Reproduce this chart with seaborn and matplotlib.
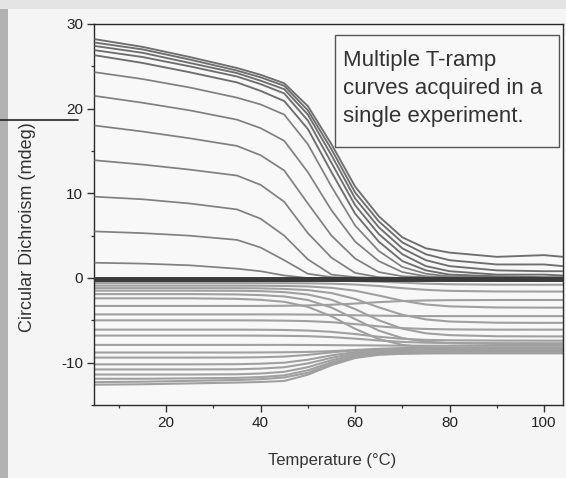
import matplotlib
matplotlib.use("Agg")
import matplotlib.pyplot as plt
import seaborn as sns
import pandas as pd
from matplotlib.patches import Rectangle
from matplotlib.lines import Line2D
from matplotlib.ticker import AutoMinorLocator

# ---------------- data ----------------
temps = [5, 15, 25, 35, 40, 45, 50, 55, 60, 65, 70, 75, 80, 90, 100, 104]

pos_01 = [28.2, 27.3, 26.1, 24.8, 24.0, 23.0, 20.3, 15.8, 10.8, 7.3, 4.8, 3.5, 3.0, 2.5, 2.7, 2.5]
pos_02 = [27.8, 27.0, 25.8, 24.5, 23.7, 22.7, 19.8, 15.2, 10.1, 6.7, 4.2, 2.8, 2.1, 1.6, 1.6, 1.4]
pos_03 = [27.4, 26.6, 25.4, 24.2, 23.3, 22.3, 19.3, 14.5, 9.4, 6.0, 3.5, 2.1, 1.4, 0.9, 0.8, 0.8]
pos_04 = [26.9, 26.1, 25.0, 23.8, 22.9, 21.8, 18.6, 13.6, 8.6, 5.2, 2.8, 1.4, 0.8, 0.4, 0.4, 0.3]
pos_05 = [26.3, 25.4, 24.3, 23.1, 22.1, 20.9, 17.6, 12.5, 7.6, 4.3, 2.0, 0.9, 0.4, 0.2, 0.1, 0.1]
pos_06 = [24.3, 23.5, 22.5, 21.3, 20.5, 19.3, 15.8, 10.8, 6.2, 3.2, 1.3, 0.5, 0.2, 0.1, 0.0, 0.0]
pos_07 = [21.5, 20.7, 19.8, 18.7, 17.7, 16.2, 12.5, 8.0, 4.3, 2.0, 0.7, 0.2, 0.1, 0.0, 0.0, 0.0]
pos_08 = [18.0, 17.3, 16.5, 15.6, 14.5, 12.7, 8.8, 5.0, 2.3, 0.7, 0.2, 0.1, 0.0, 0.0, 0.0, 0.0]
pos_09 = [13.9, 13.4, 12.8, 12.1, 11.0, 9.0, 5.3, 2.4, 0.6, 0.1, 0.0, 0.0, 0.0, 0.0, 0.0, 0.0]
pos_10 = [9.6, 9.3, 8.8, 8.1, 7.0, 5.0, 2.2, 0.4, 0.1, 0.0, 0.0, 0.0, 0.0, 0.0, 0.0, 0.0]
pos_11 = [5.5, 5.3, 5.0, 4.5, 3.6, 2.1, 0.5, 0.1, 0.0, 0.0, 0.0, 0.0, 0.0, 0.0, 0.0, 0.0]
pos_12 = [1.8, 1.7, 1.5, 1.1, 0.8, 0.3, 0.0, 0.0, 0.0, 0.0, 0.0, 0.0, 0.0, 0.0, 0.0, 0.0]

neg_u1 = [-0.3, -0.3, -0.3, -0.3, -0.3, -0.3, -0.31, -0.32, -0.36, -0.43, -0.55, -0.67, -0.74, -0.79, -0.8, -0.8]
neg_u2 = [-0.6, -0.6, -0.6, -0.6, -0.6, -0.61, -0.63, -0.67, -0.77, -0.95, -1.2, -1.4, -1.52, -1.59, -1.6, -1.6]
neg_u3 = [-0.9, -0.9, -0.9, -0.9, -0.91, -0.94, -1.0, -1.16, -1.5, -2.07, -2.69, -3.13, -3.35, -3.48, -3.5, -3.5]
neg_u4 = [-1.2, -1.2, -1.2, -1.2, -1.22, -1.29, -1.43, -1.78, -2.47, -3.46, -4.35, -4.89, -5.14, -5.28, -5.3, -5.3]
neg_u5 = [-1.5, -1.5, -1.5, -1.51, -1.55, -1.67, -1.95, -2.57, -3.67, -4.99, -5.99, -6.53, -6.75, -6.88, -6.9, -6.9]
neg_u6 = [-1.9, -1.9, -1.9, -1.94, -2.02, -2.18, -2.6, -3.49, -4.85, -6.21, -7.1, -7.52, -7.69, -7.79, -7.8, -7.8]
neg_u7 = [-2.4, -2.4, -2.4, -2.46, -2.58, -2.81, -3.41, -4.52, -6.0, -7.21, -7.9, -8.21, -8.33, -8.4, -8.4, -8.4]
neg_m1 = [-3.3, -3.3, -3.3, -3.3, -3.3, -3.28, -3.24, -3.16, -3.02, -2.85, -2.72, -2.65, -2.62, -2.6, -2.6, -2.6]
neg_m2 = [-4.3, -4.3, -4.3, -4.3, -4.3, -4.3, -4.32, -4.35, -4.4, -4.45, -4.48, -4.5, -4.5, -4.5, -4.5, -4.5]
neg_m3 = [-5.0, -5.0, -5.0, -5.0, -5.01, -5.04, -5.09, -5.22, -5.44, -5.71, -5.92, -6.02, -6.07, -6.1, -6.1, -6.1]
neg_m4 = [-6.1, -6.1, -6.1, -6.1, -6.11, -6.14, -6.21, -6.36, -6.62, -6.94, -7.18, -7.31, -7.36, -7.39, -7.4, -7.4]
neg_m5 = [-6.8, -6.8, -6.8, -6.8, -6.81, -6.83, -6.87, -6.98, -7.16, -7.38, -7.55, -7.64, -7.68, -7.7, -7.7, -7.7]
neg_m6 = [-7.9, -7.9, -7.9, -7.9, -7.9, -7.9, -7.91, -7.93, -7.95, -7.97, -7.99, -8.0, -8.0, -8.0, -8.0, -8.0]
neg_m7 = [-8.8, -8.8, -8.8, -8.8, -8.79, -8.77, -8.73, -8.64, -8.5, -8.36, -8.27, -8.23, -8.21, -8.2, -8.2, -8.2]
neg_l1 = [-9.4, -9.4, -9.4, -9.39, -9.36, -9.28, -9.08, -8.78, -8.55, -8.45, -8.41, -8.4, -8.4, -8.4, -8.4, -8.4]
neg_l2 = [-10.2, -10.2, -10.2, -10.18, -10.12, -10.0, -9.65, -9.14, -8.75, -8.58, -8.52, -8.51, -8.5, -8.5, -8.5, -8.5]
neg_l3 = [-10.8, -10.8, -10.8, -10.78, -10.7, -10.54, -10.09, -9.43, -8.93, -8.7, -8.63, -8.61, -8.6, -8.6, -8.6, -8.6]
neg_l4 = [-11.4, -11.4, -11.4, -11.37, -11.28, -11.08, -10.53, -9.72, -9.1, -8.83, -8.74, -8.71, -8.7, -8.7, -8.7, -8.7]
neg_l5 = [-11.9, -11.9, -11.85, -11.8, -11.7, -11.5, -10.9, -9.97, -9.26, -8.95, -8.84, -8.81, -8.8, -8.8, -8.8, -8.8]
neg_l6 = [-12.3, -12.25, -12.15, -12.05, -11.95, -11.75, -11.19, -10.15, -9.36, -9.01, -8.9, -8.86, -8.85, -8.85, -8.85, -8.85]
neg_l7 = [-12.6, -12.55, -12.45, -12.35, -12.28, -12.16, -11.42, -10.3, -9.45, -9.07, -8.95, -8.91, -8.9, -8.9, -8.9, -8.9]

zero_a = [0.0, 0.0, 0.0, 0.0, 0.0, 0.0, 0.0, 0.0, 0.0, 0.0, 0.0, 0.0, 0.0, 0.0, 0.0, 0.0]
zero_b = [-0.2, -0.2, -0.2, -0.2, -0.2, -0.2, -0.2, -0.2, -0.2, -0.2, -0.2, -0.2, -0.2, -0.2, -0.2, -0.2]

x_ticks = [20, 40, 60, 80, 100]
y_ticks = [-10, 0, 10, 20, 30]
x_label = "Temperature (\u00b0C)"
y_label = "Circular Dichroism (mdeg)"
box_text = "Multiple T-ramp\ncurves acquired in a\nsingle experiment."

neg_curves = [neg_u1, neg_u2, neg_u3, neg_u4, neg_u5, neg_u6, neg_u7,
              neg_m1, neg_m2, neg_m3, neg_m4, neg_m5, neg_m6, neg_m7,
              neg_l1, neg_l2, neg_l3, neg_l4, neg_l5, neg_l6, neg_l7]
pos_top = [pos_01, pos_02, pos_03, pos_04, pos_05]
pos_rest = [pos_06, pos_07, pos_08, pos_09, pos_10, pos_11, pos_12]
zero_curves = [zero_a, zero_b]

# ---------------- figure ----------------
sns.set_theme(style="ticks")
plt.rcParams['font.family'] = ['Liberation Sans', 'DejaVu Sans']
plt.rcParams['axes.unicode_minus'] = False

W, H = 566, 478
fig = plt.figure(figsize=(W / 100, H / 100), dpi=100, facecolor='#f5f5f5')
ax_l, ax_r, ax_t, ax_b = 94.3, 563.0, 24.0, 405.0
ax = fig.add_axes([ax_l / W, 1 - ax_b / H, (ax_r - ax_l) / W, (ax_b - ax_t) / H])
ax.set_facecolor('#f8f8f8')


def draw(vals, color, lw, z):
    df = pd.DataFrame({'T': temps, 'CD': vals})
    sns.lineplot(data=df, x='T', y='CD', color=color, linewidth=lw, ax=ax,
                 estimator=None, sort=False, zorder=z)


for c in neg_curves:
    draw(c, '#a0a0a0', 1.5, 2)
for c in pos_rest:
    draw(c, '#808080', 1.25, 3)
for c in pos_top:
    draw(c, '#6e6e6e', 1.35, 3)
for c in zero_curves:
    draw(c, '#3a3a3a', 2.1, 4)

ax.set_xlim(4.8, 104)
ax.set_ylim(-15, 30)
ax.set_xticks(x_ticks)
ax.set_yticks(y_ticks)
ax.xaxis.set_minor_locator(AutoMinorLocator(2))
ax.yaxis.set_minor_locator(AutoMinorLocator(2))
ax.set_xlabel('')
ax.set_ylabel('')
ax.tick_params(which='major', direction='out', length=5, width=1.0,
               color='#333333', labelsize=11, labelcolor='#222222', pad=3)
ax.tick_params(which='minor', direction='out', length=2.5, width=0.9,
               color='#333333')
for s in ax.spines.values():
    s.set_visible(True)
    s.set_color('#2a2a2a')
    s.set_linewidth(1.0)

# annotation box
bx0 = (335 - ax_l) / (ax_r - ax_l)
bx1 = (559 - ax_l) / (ax_r - ax_l)
by1 = 1 - (35 - ax_t) / (ax_b - ax_t)
by0 = 1 - (147 - ax_t) / (ax_b - ax_t)
ax.add_patch(Rectangle((bx0, by0), bx1 - bx0, by1 - by0, transform=ax.transAxes,
                       facecolor='#f8f8f8', edgecolor='#555555', linewidth=1.0, zorder=6))
ax.text((343 - ax_l) / (ax_r - ax_l), 1 - (50 - ax_t) / (ax_b - ax_t), box_text,
        transform=ax.transAxes, ha='left', va='top', fontsize=16,
        linespacing=1.45, color='#333333', zorder=7)

# axis labels
fig.text(332 / W, 1 - 460 / H, x_label, ha='center', va='center',
         fontsize=12, color='#333333')
fig.text(28 / W, 1 - 227.5 / H, y_label, ha='center', va='center',
         rotation=90, fontsize=13, color='#333333')

# scan edge artefacts
fig.patches.append(Rectangle((0, 0), 8 / W, 1, transform=fig.transFigure,
                             facecolor='#b2b2b2', edgecolor='none', zorder=0))
fig.patches.append(Rectangle((0, 1 - 9 / H), 1, 9 / H, transform=fig.transFigure,
                             facecolor='#e4e4e4', edgecolor='none', zorder=0))
fig.lines.append(Line2D([0, 78 / W], [1 - 120 / H, 1 - 120 / H],
                        transform=fig.transFigure, color='#222222', linewidth=1.2))

fig.savefig('out.png', dpi=100, facecolor=fig.get_facecolor())
